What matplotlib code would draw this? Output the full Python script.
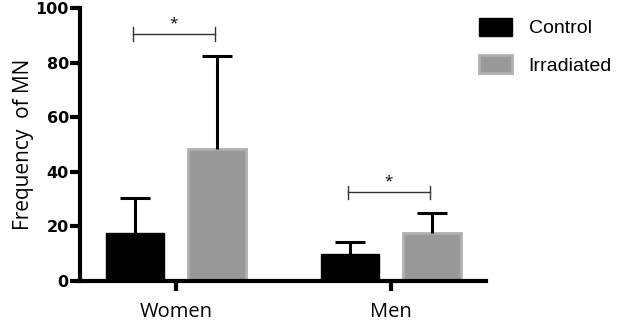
import numpy as np
import matplotlib
matplotlib.use("Agg")
import matplotlib.pyplot as plt
from matplotlib.patches import Patch

groups = ["Women", "Men"]
control = [17.5, 10.0]
control_err = [13.0, 4.5]
irradiated = [48.5, 17.5]
irradiated_err = [34.0, 7.5]
sig_y = [90.5, 32.5]

plt.rcParams['font.family'] = ['Open Sans', 'DejaVu Sans']

fig = plt.figure(figsize=(6.2, 3.22), dpi=100)
ax = fig.add_axes([0.129, 0.127, 0.655, 0.848])

x = np.arange(len(groups))
w = 0.27
off = 0.19
cap = 0.07
ax.bar(x - off, control, w, color="black", edgecolor="black", linewidth=1, zorder=2)
ax.bar(x + off, irradiated, w, color="#999999", edgecolor="#b0b0b0", linewidth=2, zorder=2)

# upper error bars only
for xs, ys, es in [(x - off, control, control_err), (x + off, irradiated, irradiated_err)]:
    tops = np.array(ys) + np.array(es)
    ax.vlines(xs, ys, tops, color="black", lw=2.2, zorder=3)
    ax.hlines(tops, xs - cap, xs + cap, color="black", lw=2.2, zorder=3)

for xi, yi in zip(x, sig_y):
    x0, x1 = xi - off - 0.01, xi + off - 0.01
    ax.plot([x0, x1], [yi, yi], color="#333333", lw=1)
    ax.plot([x0, x0], [yi - 2.5, yi + 2.5], color="#333333", lw=1)
    ax.plot([x1, x1], [yi - 2.5, yi + 2.5], color="#333333", lw=1)
    ax.text((x0 + x1) / 2, yi + 1.0, "*", ha="center", va="bottom", fontsize=11)

ax.set_xlim(-0.447, 1.442)
ax.set_ylim(0, 100)
ax.set_yticks([0, 20, 40, 60, 80, 100])
ax.set_yticklabels(["0", "20", "40", "60", "80", "100"], fontsize=11.5, fontweight="bold",
                   family=["DejaVu Sans"])
ax.set_xticks(x)
ax.set_xticklabels(groups, fontsize=14.5)
ax.set_ylabel("Frequency  of MN", fontsize=15, labelpad=1)
for s in ["top", "right"]:
    ax.spines[s].set_visible(False)
for s in ["left", "bottom"]:
    ax.spines[s].set_linewidth(3)
ax.tick_params(axis="both", width=3, length=7, direction="out")
ax.tick_params(axis="y", pad=1)
ax.tick_params(axis="x", pad=8)

handles = [Patch(facecolor="black", edgecolor="black"),
           Patch(facecolor="#999999", edgecolor="#b0b0b0", linewidth=2)]
fig.legend(handles, ["Control", "Irradiated"], loc="upper left",
           bbox_to_anchor=(0.757, 0.975), frameon=False, borderpad=0,
           handlelength=1.7, handleheight=1.05, labelspacing=0.9, handletextpad=0.85,
           prop={"family": ["Liberation Sans"], "size": 14})

fig.savefig("out.png", dpi=100)
